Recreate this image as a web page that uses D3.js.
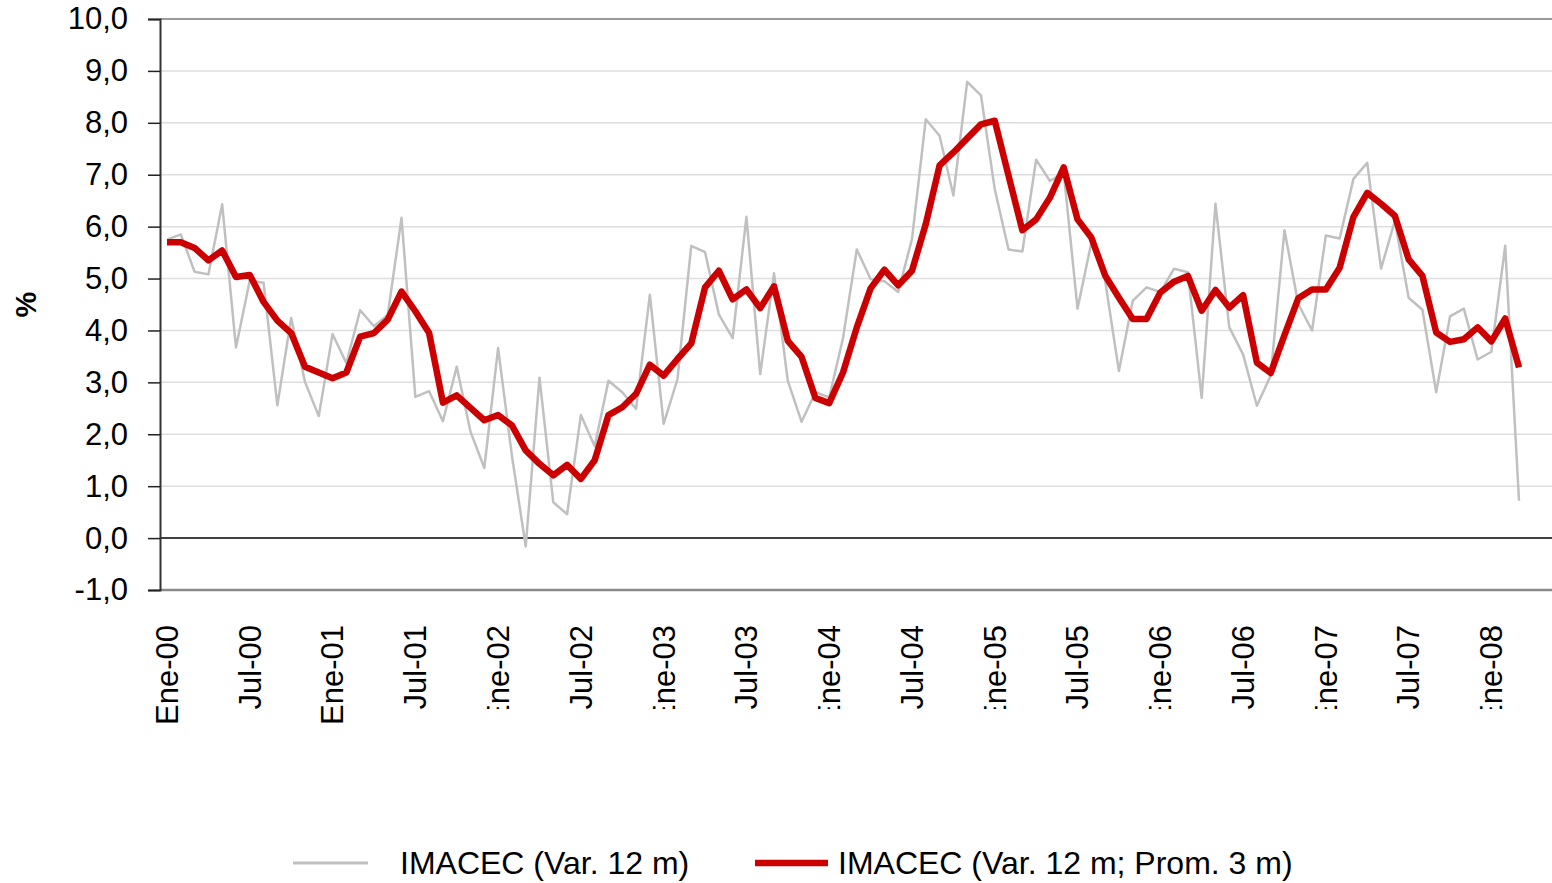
<!DOCTYPE html>
<html>
<head>
<meta charset="utf-8">
<script src="https://cdn.jsdelivr.net/npm/d3@7"></script>
<style>
    body { margin: 0; background: #fff; }
    svg { display: block; font-family: Arial, "Liberation Sans", sans-serif; }
</style>
</head>
<body>
<div id="chart"></div>
<script>
// monthly, Ene-00 .. Mar-08
const startYear = 2000
const monthNames = ["Ene","Feb","Mar","Abr","May","Jun","Jul","Ago","Sep","Oct","Nov","Dic"]

const imacec = [
    5.75, 5.85, 5.13, 5.08, 6.43, 3.67, 4.96, 4.92, 2.56, 4.24, 3.01, 2.35,
    3.93, 3.37, 4.39, 4.08, 4.30, 6.17, 2.72, 2.83, 2.25, 3.30, 2.05, 1.35,
    3.66, 1.59, -0.16, 3.09, 0.69, 0.46, 2.37, 1.77, 3.03, 2.81, 2.49, 4.69,
    2.20, 3.06, 5.63, 5.51, 4.31, 3.85, 6.19, 3.16, 5.10, 3.03, 2.24, 2.81,
    2.71, 3.85, 5.56, 4.99, 4.95, 4.74, 5.76, 8.07, 7.75, 6.60, 8.79, 8.53,
    6.72, 5.56, 5.52, 7.29, 6.88, 7.04, 4.42, 5.69, 4.96, 3.22, 4.57, 4.83,
    4.74, 5.19, 5.12, 2.70, 6.44, 4.06, 3.54, 2.55, 3.13, 5.93, 4.51, 4.00,
    5.83, 5.77, 6.92, 7.23, 5.19, 6.11, 4.63, 4.40, 2.81, 4.27, 4.42, 3.44,
    3.59, 5.63, 0.72
]

const imacecProm3 = [
    5.70, 5.70, 5.59, 5.35, 5.54, 5.03, 5.07, 4.55, 4.19, 3.95, 3.30, 3.19,
    3.08, 3.19, 3.88, 3.95, 4.21, 4.75, 4.37, 3.95, 2.61, 2.75, 2.51, 2.27,
    2.37, 2.17, 1.69, 1.43, 1.21, 1.41, 1.14, 1.50, 2.37, 2.52, 2.78, 3.34,
    3.13, 3.45, 3.75, 4.83, 5.15, 4.60, 4.79, 4.43, 4.85, 3.80, 3.49, 2.70,
    2.60, 3.19, 4.06, 4.81, 5.17, 4.87, 5.15, 6.05, 7.18, 7.43, 7.70, 7.97,
    8.04, 6.98, 5.93, 6.14, 6.56, 7.14, 6.14, 5.79, 5.06, 4.63, 4.22, 4.22,
    4.73, 4.94, 5.05, 4.38, 4.78, 4.44, 4.68, 3.38, 3.18, 3.91, 4.62, 4.79,
    4.79, 5.21, 6.19, 6.65, 6.44, 6.21, 5.37, 5.05, 3.96, 3.78, 3.83, 4.06,
    3.79, 4.23, 3.29
]

const yTicks = [-1, 0, 1, 2, 3, 4, 5, 6, 7, 8, 9, 10]
const xTickEvery = 6

const seriesNames = ["IMACEC (Var. 12 m)", "IMACEC (Var. 12 m; Prom. 3 m)"]

const width = 1552
const height = 883
const grayColor = "#c0c0c0"
const redColor = "#cc0000"
const fontSize = 31

const plot = { left: 160, right: 1552, top: 19, bottom: 590 }

const months = imacec.map((v, i) => ({
    i: i,
    label: monthNames[i % 12] + "-" + String((startYear + Math.floor(i / 12)) % 100).padStart(2, "0")
}))

const svg = d3.select("#chart").append("svg")
    .attr("width", width)
    .attr("height", height)

const x = d3.scaleLinear()
    .domain([0, imacec.length - 1])
    .range([167, 1519])

const y = d3.scaleLinear()
    .domain([-1, 10])
    .range([plot.bottom, plot.top])

// gridlines
svg.append("g")
    .selectAll("line")
    .data(yTicks.filter(d => d > 0 && d < 10))
    .join("line")
        .attr("x1", plot.left)
        .attr("x2", plot.right)
        .attr("y1", d => y(d))
        .attr("y2", d => y(d))
        .attr("stroke", "#dedede")
        .attr("stroke-width", 1.5)

// top and bottom frame
svg.append("line")
    .attr("x1", plot.left).attr("x2", plot.right)
    .attr("y1", y(10)).attr("y2", y(10))
    .attr("stroke", "#9a9a9a").attr("stroke-width", 2)

svg.append("line")
    .attr("x1", plot.left).attr("x2", plot.right)
    .attr("y1", y(-1)).attr("y2", y(-1))
    .attr("stroke", "#8a8a8a").attr("stroke-width", 2.5)

// zero line
svg.append("line")
    .attr("x1", plot.left).attr("x2", plot.right)
    .attr("y1", y(0)).attr("y2", y(0))
    .attr("stroke", "#000").attr("stroke-width", 1.5)

// y axis
const yAxis = d3.axisLeft(y)
    .tickValues(yTicks)
    .tickSize(12)
    .tickPadding(20)
    .tickFormat(d => d3.format(".1f")(d).replace(".", ",").replace("\u2212", "-"))

const yAxisG = svg.append("g")
    .attr("transform", `translate(${plot.left},0)`)
    .call(yAxis)

yAxisG.select(".domain").attr("stroke", "#333").attr("stroke-width", 2)
yAxisG.selectAll(".tick line").attr("stroke", "#222").attr("stroke-width", 1.5)
yAxisG.selectAll(".tick text")
    .attr("font-size", fontSize)
    .attr("fill", "#000")
    .attr("font-family", "Arial, 'Liberation Sans', sans-serif")

svg.append("text")
    .attr("transform", `translate(36,${y(4.5)}) rotate(-90)`)
    .attr("text-anchor", "middle")
    .attr("font-size", 29)
    .attr("font-weight", "bold")
    .text("%")

// x labels, Excel cut the long ones off at the bottom
svg.append("defs").append("clipPath")
    .attr("id", "labelClip")
    .append("rect")
        .attr("x", 0).attr("y", 600)
        .attr("width", width).attr("height", 109)

const labelG = svg.append("g")
labelG.selectAll("g")
    .data(months.filter(d => d.i % xTickEvery === 0))
    .join("g")
        .attr("clip-path", (d, k) => k < 3 ? null : "url(#labelClip)")
        .append("text")
            .attr("transform", d => `translate(${x(d.i)},625) rotate(-90)`)
            .attr("text-anchor", "end")
            .attr("dy", "0.35em")
            .attr("font-size", fontSize)
            .attr("fill", "#000")
            .text(d => d.label)

// series
const line = d3.line()
    .x((d, i) => x(i))
    .y(d => y(d))

svg.append("path")
    .datum(imacec)
    .attr("fill", "none")
    .attr("stroke", grayColor)
    .attr("stroke-width", 2.5)
    .attr("stroke-linejoin", "round")
    .attr("d", line)

svg.append("path")
    .datum(imacecProm3)
    .attr("fill", "none")
    .attr("stroke", redColor)
    .attr("stroke-width", 6.5)
    .attr("stroke-linejoin", "round")
    .attr("d", line)

// legend
const legend = [
    { name: seriesNames[0], color: grayColor, w: 3, x0: 293, x1: 368, tx: 400 },
    { name: seriesNames[1], color: redColor, w: 6.5, x0: 755, x1: 828, tx: 838 }
]

const legendY = 863
const legendG = svg.append("g")
legendG.selectAll("line")
    .data(legend)
    .join("line")
        .attr("x1", d => d.x0)
        .attr("x2", d => d.x1)
        .attr("y1", legendY)
        .attr("y2", legendY)
        .attr("stroke", d => d.color)
        .attr("stroke-width", d => d.w)

legendG.selectAll("text")
    .data(legend)
    .join("text")
        .attr("x", d => d.tx)
        .attr("y", legendY)
        .attr("dy", "0.35em")
        .attr("font-size", 32)
        .attr("fill", "#000")
        .text(d => d.name)
</script>
</body>
</html>
